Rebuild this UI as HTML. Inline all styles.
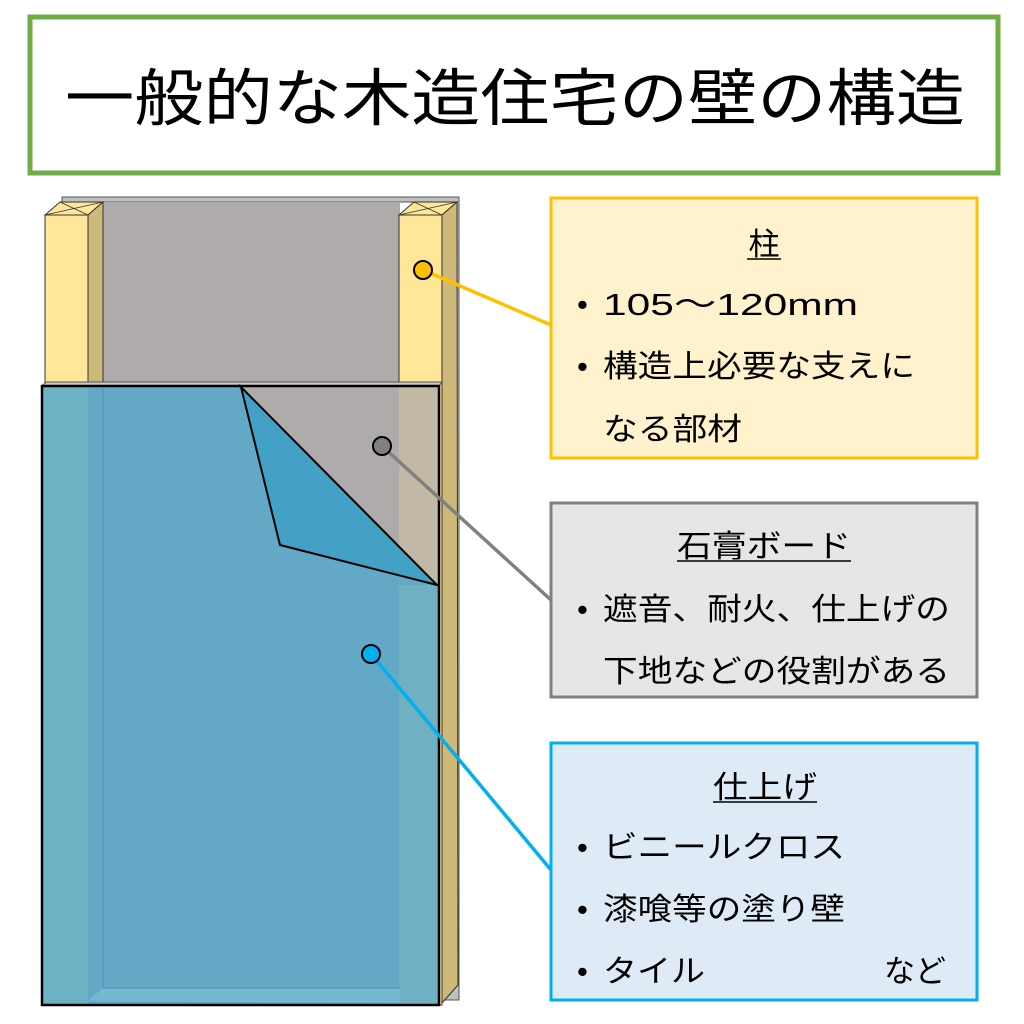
<!DOCTYPE html>
<html><head><meta charset="utf-8"><style>
html,body{margin:0;padding:0;background:#fff;}
svg{display:block}
text{font-family:"Liberation Sans","Noto Sans CJK JP",sans-serif;fill:#000;}
</style></head><body>
<svg width="1024" height="1024" viewBox="0 0 1024 1024" xmlns="http://www.w3.org/2000/svg">
<rect x="30" y="17" width="968" height="156" fill="#fff" stroke="#70ad47" stroke-width="5"/>
<text x="65" y="120" font-size="62" textLength="900" lengthAdjust="spacingAndGlyphs">一般的な木造住宅の壁の構造</text>

<!-- back gray board -->
<polygon points="62,197 459,197 459,1000 442,1000 442,202 62,202" fill="#c0c0c0" stroke="#555" stroke-width="1"/>
<rect x="100" y="202" width="300" height="184" fill="#afabab"/>
<!-- left post -->
<polygon points="45,215 60,202 103,202 88,215" fill="#ffe699" stroke="#333" stroke-width="1"/>
<line x1="60" y1="202" x2="88" y2="215" stroke="#333" stroke-width="0.8"/><line x1="45" y1="215" x2="103" y2="202" stroke="#333" stroke-width="0.8"/>
<rect x="45" y="215" width="43" height="790" fill="#ffe699" stroke="#333" stroke-width="1"/>
<polygon points="88,215 103,202 103,1000 88,1005" fill="#cdb978" stroke="#333" stroke-width="1"/>
<!-- right post -->
<polygon points="399,215 414,202 457,202 442,215" fill="#ffe699" stroke="#333" stroke-width="1"/>
<line x1="414" y1="202" x2="442" y2="215" stroke="#333" stroke-width="0.8"/><line x1="399" y1="215" x2="457" y2="202" stroke="#333" stroke-width="0.8"/>
<rect x="399" y="215" width="43" height="790" fill="#ffe699" stroke="#333" stroke-width="1"/>
<polygon points="442,215 457,202 458,985 442,1003" fill="#cdb978" stroke="#333" stroke-width="1"/>
<!-- gray front board -->
<polygon points="42,386 46,382 442,382 439,386" fill="#c8c8c8" stroke="#555" stroke-width="1"/>
<rect x="42" y="386" width="397" height="619" fill="#afabab" stroke="#333" stroke-width="1"/>
<rect x="399" y="386" width="40" height="619" fill="#d8c9a0" fill-opacity="0.45"/>
<!-- blue finish -->
<polygon points="42,386 241,386 437,585 439,585 439,1005 42,1005" fill="#5ba8c9" fill-opacity="0.9"/>
<rect x="42" y="386" width="46" height="619" fill="#7ab8c2" fill-opacity="0.5"/>
<rect x="399" y="585" width="40" height="420" fill="#7ab8c2" fill-opacity="0.5"/>
<polygon points="88,1001 103,988 400,988 400,1003" fill="#76b8d4"/>
<line x1="103" y1="386" x2="103" y2="988" stroke="#4e94ae" stroke-width="1"/>
<line x1="103" y1="988" x2="400" y2="988" stroke="#4e94ae" stroke-width="1"/>
<rect x="42" y="386" width="397" height="619" fill="none" stroke="#000" stroke-width="2.5"/>
<polygon points="241,387 437,585 280,545" fill="#42a1c5" stroke="#000" stroke-width="2"/>

<!-- connectors -->
<line x1="423" y1="270" x2="551" y2="325" stroke="#ffc000" stroke-width="3.5"/>
<line x1="382" y1="446" x2="551" y2="600" stroke="#808080" stroke-width="3.5"/>
<line x1="371" y1="654" x2="551" y2="870" stroke="#00b0f0" stroke-width="3.5"/>
<circle cx="423" cy="270" r="9" fill="#ffc000" stroke="#000" stroke-width="2"/>
<circle cx="382" cy="446" r="9" fill="#808080" stroke="#000" stroke-width="2"/>
<circle cx="371" cy="654" r="9" fill="#00b0f0" stroke="#000" stroke-width="2"/>

<!-- boxes -->
<rect x="551" y="198" width="426" height="260" fill="#fff2cc" stroke="#ffc000" stroke-width="3"/>
<text x="764" y="255" font-size="31" text-anchor="middle">柱</text>
<line x1="747" y1="259" x2="781" y2="259" stroke="#000" stroke-width="1.5"/>
<text x="577" y="315" font-size="31">•</text><text x="603" y="315" font-size="31" textLength="255" lengthAdjust="spacingAndGlyphs">105～120mm</text>
<text x="577" y="377" font-size="31">•</text><text x="603" y="377" font-size="31" textLength="312" lengthAdjust="spacingAndGlyphs">構造上必要な支えに</text>
<text x="603" y="440" font-size="31" textLength="139" lengthAdjust="spacingAndGlyphs">なる部材</text>

<rect x="551" y="503" width="426" height="194" fill="#e7e6e6" stroke="#808080" stroke-width="3"/>
<text x="677" y="557" font-size="31" textLength="174" lengthAdjust="spacingAndGlyphs">石膏ボード</text>
<line x1="677" y1="561" x2="851" y2="561" stroke="#000" stroke-width="1.5"/>
<text x="577" y="620" font-size="31">•</text><text x="603" y="620" font-size="31" textLength="347" lengthAdjust="spacingAndGlyphs">遮音、耐火、仕上げの</text>
<text x="603" y="682" font-size="31" textLength="347" lengthAdjust="spacingAndGlyphs">下地などの役割がある</text>

<rect x="551" y="743" width="426" height="257" fill="#deebf7" stroke="#00b0f0" stroke-width="3"/>
<text x="713" y="798" font-size="31" textLength="104" lengthAdjust="spacingAndGlyphs">仕上げ</text>
<line x1="713" y1="802" x2="817" y2="802" stroke="#000" stroke-width="1.5"/>
<text x="577" y="858" font-size="31">•</text><text x="603" y="858" font-size="31" textLength="242" lengthAdjust="spacingAndGlyphs">ビニールクロス</text>
<text x="577" y="920" font-size="31">•</text><text x="603" y="920" font-size="31" textLength="242" lengthAdjust="spacingAndGlyphs">漆喰等の塗り壁</text>
<text x="577" y="982" font-size="31">•</text><text x="603" y="982" font-size="31" textLength="102" lengthAdjust="spacingAndGlyphs">タイル</text>
<text x="884" y="982" font-size="31" textLength="62" lengthAdjust="spacingAndGlyphs">など</text>
</svg>
</body></html>
